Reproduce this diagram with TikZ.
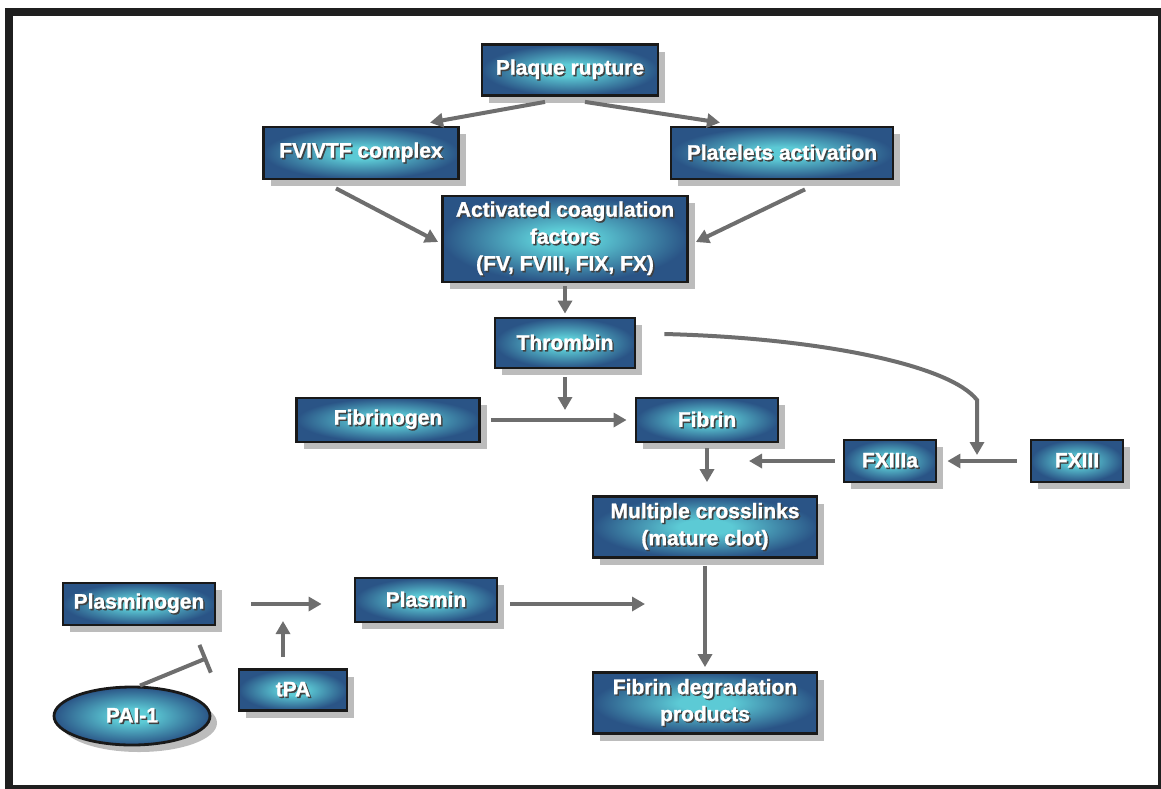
\documentclass[tikz,border=0pt]{standalone}
\usepackage{fontspec}
\setmainfont{Liberation Sans}[BoldFeatures={FakeBold=1.2}]
\usetikzlibrary{
    arrows.meta,
    shapes.geometric,
    shadows
}

\definecolor{boxcore}{HTML}{5CCAD5}
\definecolor{boxrim}{HTML}{2A5486}
\definecolor{arrowgray}{HTML}{6E6E6E}
\pgfdeclareradialshading{boxglow}{\pgfpoint{0bp}{0bp}}{%
  color(0bp)=(boxcore); color(6bp)=(boxcore);
  color(25bp)=(boxrim); color(50bp)=(boxrim)}

% white label with a dark offset copy behind it
\newcommand{\shtxt}[1]{\leavevmode\rlap{\hspace{1.5pt}\raisebox{-1.5pt}{\color{black!75}#1}}#1}

\begin{document}
\begin{tikzpicture}[
  x=1pt,
  y=-1pt,
  every node/.style={align=center},
  factbox/.style={
    draw=black!90,
    line width=2.8pt,
    shading=boxglow,
    text=white,
    font=\fontsize{21}{27}\selectfont\bfseries,
    drop shadow={shadow xshift=7pt, shadow yshift=-7pt, fill=black!35, opacity=0.75},
    inner sep=0pt
  },
  arrow/.style={-{Triangle[length=13pt,width=14pt]}, line width=4pt, draw=arrowgray},
  blockarrow/.style={-{Bar[width=30pt]}, line width=4pt, draw=arrowgray}
]
  \useasboundingbox (0,0) rectangle (1161,788);
  \clip (0,0) rectangle (1161,788);
  \draw[line width=8pt, black!88] (9,12) rectangle (1162,789);

  % Coagulation cascade.
  \node[factbox, minimum width=176pt, minimum height=51pt] (plaque) at (570,70) {\shtxt{Plaque rupture}};
  \node[factbox, minimum width=195pt, minimum height=52pt] (fvivtf) at (361,153) {\shtxt{FVIVTF complex}};
  \node[factbox, minimum width=222pt, minimum height=52pt] (platelets) at (782,153) {\shtxt{Platelets activation}};
  \node[factbox, minimum width=245pt, minimum height=86pt] (activated) at (565,239) {\shtxt{Activated coagulation}\\\shtxt{factors}\\\shtxt{(FV, FVIII, FIX, FX)}};
  \node[factbox, minimum width=140pt, minimum height=50pt] (thrombin) at (565,343) {\shtxt{Thrombin}};

  \draw[arrow] ([shift={(-25,5)}]plaque.south) -- ([shift={(69,-3)}]fvivtf.north);
  \draw[arrow] ([shift={(15,5)}]plaque.south) -- ([shift={(-62,-3)}]platelets.north);
  \draw[arrow] ([shift={(-25,8)}]fvivtf.south) -- ([shift={(-3,3)}]activated.west);
  \draw[arrow] ([shift={(23,9)}]platelets.south) -- ([shift={(7,3)}]activated.east);
  \draw[arrow, shorten <=3pt, shorten >=3pt] (activated.south) -- (thrombin.north);

  % Fibrin formation and crosslinking.
  \node[factbox, minimum width=183pt, minimum height=44pt] (fibrinogen) at (388,420) {\shtxt{Fibrinogen}};
  \node[factbox, minimum width=142pt, minimum height=44pt] (fibrin) at (707,420) {\shtxt{Fibrin}};
  \node[factbox, minimum width=92pt, minimum height=42pt] (fxiiia) at (890,461) {\shtxt{FXIIIa}};
  \node[factbox, minimum width=92pt, minimum height=42pt] (fxiii) at (1077,461) {\shtxt{FXIII}};
  \node[factbox, minimum width=224pt, minimum height=61pt] (crosslinks) at (705,527) {\shtxt{Multiple crosslinks}\\\shtxt{(mature clot)}};

  \coordinate (fibjoin) at (565,419);
  \coordinate (fxjoin) at (977,455);
  \coordinate (xljoin) at (749,461);
  \draw[arrow, shorten <=8pt, shorten >=9pt] (thrombin.south) -- (fibjoin);
  \draw[arrow, shorten <=10pt, shorten >=8pt] (fibrinogen.east) -- (fibrin.west);
  \draw[arrow] ([shift={(28,-9)}]thrombin.east) .. controls (820,338) and (950,365) .. (977,400) -- (fxjoin);
  \draw[arrow, shorten <=13pt, shorten >=10pt] (fxiii.west) -- (fxiiia.east);
  \draw[arrow, shorten <=8pt] (fxiiia.west) -- (xljoin);
  \draw[arrow, shorten <=5pt, shorten >=13pt] (fibrin.south) -- (fibrin.south |- crosslinks.north);

  % Fibrinolysis.
  \node[factbox, minimum width=152pt, minimum height=42pt] (plasminogen) at (139,604) {\shtxt{Plasminogen}};
  \node[factbox, minimum width=142pt, minimum height=44pt] (plasmin) at (426,600) {\shtxt{Plasmin}};
  \node[factbox, minimum width=108pt, minimum height=41pt] (tpa) at (293,690) {\shtxt{tPA}};
  \node[factbox, ellipse, minimum width=156pt, minimum height=58pt] (pai) at (132,716) {\shtxt{PAI-1}};
  \node[factbox, minimum width=224pt, minimum height=61pt] (degradation) at (705,703) {\shtxt{Fibrin degradation}\\\shtxt{products}};

  \coordinate (plasjoin) at (645,604);
  \coordinate (tpajoin) at (283,621);
  \coordinate (paibar) at (207,658);
  \draw[arrow, shorten <=35pt, shorten >=32pt] (plasminogen.east) -- (plasminogen.east -| plasmin.west);
  \draw[arrow, shorten <=11pt] (tpa.north -| tpajoin) -- (tpajoin);
  \draw[blockarrow] ([xshift=8pt]pai.north) -- (paibar);
  \draw[arrow, shorten <=12pt] (plasmin.east |- plasjoin) -- (plasjoin);
  \draw[arrow, shorten <=7pt, shorten >=4pt] (crosslinks.south) -- (degradation.north);
\end{tikzpicture}
\end{document}
